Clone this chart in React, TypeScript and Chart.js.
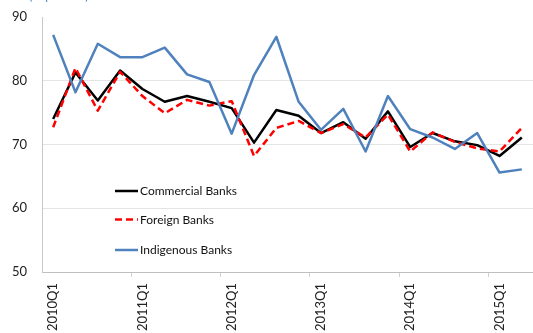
import { useEffect, useRef } from "react";
import { Chart, registerables } from "chart.js";

Chart.register(...registerables);

const quarters = [
  "2010Q1", "2010Q2", "2010Q3", "2010Q4",
  "2011Q1", "2011Q2", "2011Q3", "2011Q4",
  "2012Q1", "2012Q2", "2012Q3", "2012Q4",
  "2013Q1", "2013Q2", "2013Q3", "2013Q4",
  "2014Q1", "2014Q2", "2014Q3", "2014Q4",
  "2015Q1", "2015Q2",
];

const commercialBanks = [
  74.0, 81.3, 76.9, 81.6, 78.7, 76.7, 77.6, 76.7, 75.7, 70.3, 75.4,
  74.5, 71.8, 73.5, 70.9, 75.2, 69.6, 71.8, 70.5, 69.9, 68.2, 71.1,
];

const foreignBanks = [
  72.7, 82.0, 75.3, 81.4, 77.6, 74.9, 77.0, 76.1, 76.8, 68.2, 72.6,
  73.7, 71.8, 73.2, 71.1, 74.7, 68.9, 71.9, 70.4, 69.4, 68.9, 72.6,
];

const indigenousBanks = [
  87.2, 78.2, 85.8, 83.7, 83.7, 85.2, 81.0, 79.8, 71.7, 80.9, 86.9,
  76.7, 72.3, 75.6, 68.9, 77.6, 72.4, 71.1, 69.3, 71.8, 65.6, 66.1,
];

const yMin = 50;
const yMax = 90;
const yStep = 10;

const seriesNames = ["Commercial Banks", "Foreign Banks", "Indigenous Banks"];
const subtitle = "(In percent)";

const insideLegend = {
  id: "insideLegend",
  afterDatasetsDraw(chart: any) {
    const ctx = chart.ctx;
    const x0 = chart.chartArea.left + 73;
    const rows = [191, 219.5, 250];
    chart.data.datasets.forEach((ds: any, i: number) => {
      const y = rows[i];
      ctx.save();
      ctx.strokeStyle = ds.borderColor;
      ctx.lineWidth = ds.borderWidth;
      ctx.setLineDash(ds.borderDash || []);
      ctx.lineCap = "butt";
      ctx.beginPath();
      ctx.moveTo(x0, y);
      ctx.lineTo(x0 + 23, y);
      ctx.stroke();
      ctx.setLineDash([]);
      ctx.fillStyle = "#111";
      ctx.font = "12px Lato";
      ctx.textBaseline = "middle";
      ctx.textAlign = "left";
      ctx.fillText(ds.label, x0 + 25, y + 0.5);
      ctx.restore();
    });
  },
};

export default function App() {
  const ref = useRef<HTMLCanvasElement>(null);

  useEffect(() => {
    Chart.defaults.font.family = "Lato";
    const chart = new Chart(ref.current as HTMLCanvasElement, {
      type: "line",
      data: {
        labels: quarters,
        datasets: [
          {
            label: seriesNames[0],
            data: commercialBanks,
            borderColor: "#000000",
            borderWidth: 2.5,
            pointRadius: 0,
            tension: 0,
            borderJoinStyle: "round",
            order: 2,
          },
          {
            label: seriesNames[1],
            data: foreignBanks,
            borderColor: "#ff0000",
            borderWidth: 2.5,
            borderDash: [7, 4],
            pointRadius: 0,
            tension: 0,
            borderJoinStyle: "round",
            order: 1,
          },
          {
            label: seriesNames[2],
            data: indigenousBanks,
            borderColor: "#4f81bd",
            borderWidth: 2.5,
            pointRadius: 0,
            tension: 0,
            borderJoinStyle: "round",
            order: 0,
          },
        ],
      },
      options: {
        animation: false,
        responsive: false,
        layout: { padding: { top: 17, left: 0, right: 0, bottom: 0 } },
        plugins: {
          legend: { display: false },
          tooltip: { enabled: false },
        },
        scales: {
          x: {
            offset: true,
            border: { color: "#bfbfbf", width: 1 },
            grid: {
              offset: true,
              drawOnChartArea: false,
              drawTicks: true,
              tickLength: 5,
              color: (c: any) =>
                c.index % 4 === 0 && c.index > 0 ? "#d0d0d0" : "rgba(0,0,0,0)",
            },
            ticks: {
              autoSkip: false,
              maxRotation: 90,
              minRotation: 90,
              padding: 6,
              color: "#222",
              font: { size: 13, family: "Lato" },
              callback: function (this: any, val: any, index: number) {
                return index % 4 === 0 ? this.getLabelForValue(val) : "";
              },
            },
            afterFit: (s: any) => {
              s.height = 61;
              s.paddingLeft = 0;
              s.paddingRight = 0;
            },
          },
          y: {
            min: yMin,
            max: yMax,
            border: { color: "#c8c8c8", width: 1 },
            grid: {
              drawTicks: false,
              color: (c: any) =>
                c.tick && (c.tick.value === yMax || c.tick.value === yMin)
                  ? "rgba(0,0,0,0)"
                  : "#e4e4e4",
            },
            ticks: {
              stepSize: yStep,
              padding: 15,
              color: "#222",
              font: { size: 13, family: "Lato" },
            },
            afterFit: (s: any) => {
              s.width = 42;
              s.paddingTop = 0;
              s.paddingBottom = 0;
            },
          },
        },
      },
      plugins: [insideLegend],
    });
    return () => chart.destroy();
  }, []);

  return (
    <div
      style={{
        position: "fixed",
        left: 0,
        top: 0,
        width: 533,
        height: 333,
        overflow: "hidden",
        background: "#fff",
      }}
    >
      <canvas ref={ref} width={533} height={333} style={{ display: "block" }} />
      <div
        style={{
          position: "absolute",
          left: 29,
          top: -10,
          fontFamily: "Lato",
          fontSize: 12,
          lineHeight: "12px",
          color: "#4f81bd",
          whiteSpace: "nowrap",
        }}
      >
        {subtitle}
      </div>
    </div>
  );
}
